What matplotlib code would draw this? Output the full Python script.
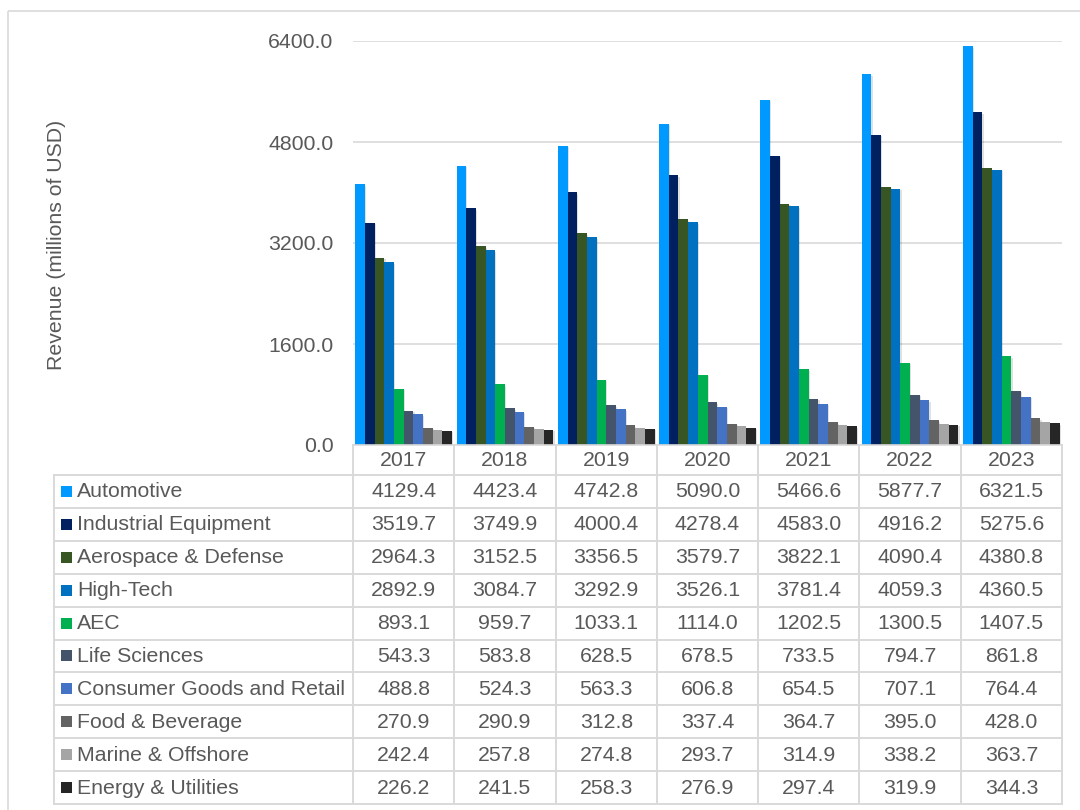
import matplotlib
matplotlib.use("Agg")
import matplotlib.pyplot as plt
from matplotlib.patches import Rectangle
from matplotlib.lines import Line2D

years = ["2017", "2018", "2019", "2020", "2021", "2022", "2023"]
segments = [
    "Automotive", "Industrial Equipment", "Aerospace & Defense", "High-Tech",
    "AEC", "Life Sciences", "Consumer Goods and Retail", "Food & Beverage",
    "Marine & Offshore", "Energy & Utilities",
]
automotive = [4129.4, 4423.4, 4742.8, 5090.0, 5466.6, 5877.7, 6321.5]
industrial_equipment = [3519.7, 3749.9, 4000.4, 4278.4, 4583.0, 4916.2, 5275.6]
aerospace_defense = [2964.3, 3152.5, 3356.5, 3579.7, 3822.1, 4090.4, 4380.8]
high_tech = [2892.9, 3084.7, 3292.9, 3526.1, 3781.4, 4059.3, 4360.5]
aec = [893.1, 959.7, 1033.1, 1114.0, 1202.5, 1300.5, 1407.5]
life_sciences = [543.3, 583.8, 628.5, 678.5, 733.5, 794.7, 861.8]
consumer_goods = [488.8, 524.3, 563.3, 606.8, 654.5, 707.1, 764.4]
food_beverage = [270.9, 290.9, 312.8, 337.4, 364.7, 395.0, 428.0]
marine_offshore = [242.4, 257.8, 274.8, 293.7, 314.9, 338.2, 363.7]
energy_utilities = [226.2, 241.5, 258.3, 276.9, 297.4, 319.9, 344.3]
series = [automotive, industrial_equipment, aerospace_defense, high_tech, aec,
          life_sciences, consumer_goods, food_beverage, marine_offshore,
          energy_utilities]
colors = ["#0099FF", "#002060", "#375623", "#0070C0", "#00B050",
          "#44546A", "#4472C4", "#636363", "#A5A5A5", "#262626"]
y_ticks = [0, 1600, 3200, 4800, 6400]

plt.rcParams["font.family"] = ["Liberation Sans", "DejaVu Sans"]
TXT = "#595959"
GRID = "#D9D9D9"
FS = 15.3

W, H = 1080, 810
fig = plt.figure(figsize=(W / 100, H / 100), dpi=100)

# pixel geometry of the plot area
px_left, px_right, px_top, px_bottom = 353, 1062, 41, 445
ax = fig.add_axes([px_left / W, 1 - px_bottom / H,
                   (px_right - px_left) / W, (px_bottom - px_top) / H])
n_cat = len(years)
n_ser = len(series)
group_w = 0.955
bw = group_w / n_ser
x0 = [i for i in range(n_cat)]
for k, (vals, c) in enumerate(zip(series, colors)):
    offs = -group_w / 2 + bw * (k + 0.5)
    xs = [x + offs for x in x0]
    # soft drop shadow
    ax.bar([x + 0.012 for x in xs], vals, width=bw, bottom=-25,
           color="#000000", alpha=0.12, linewidth=0, zorder=2)
    ax.bar(xs, vals, width=bw, color=c, linewidth=0, zorder=3)

ax.set_xlim(-0.5, n_cat - 0.5)
ax.set_ylim(0, 6400)
ax.set_yticks(y_ticks)
ax.set_yticklabels([f"{v:.1f}" for v in y_ticks], fontsize=FS, color=TXT)
ax.tick_params(axis="y", length=0, pad=14)
ax.set_xticks([])
ax.grid(axis="y", color=GRID, linewidth=1.2, zorder=0)
for s in ["top", "right", "left"]:
    ax.spines[s].set_visible(False)
ax.spines["bottom"].set_color(GRID)
ax.spines["bottom"].set_linewidth(1.2)
ax.spines["bottom"].set_zorder(4)

# overlay in pixel coordinates for frame, label and data table
ov = fig.add_axes([0, 0, 1, 1], zorder=5)
ov.set_xlim(0, W)
ov.set_ylim(H, 0)
ov.axis("off")
ov.patch.set_alpha(0)

ov.add_patch(Rectangle((8, 11), 1200, 1000, fill=False, edgecolor=GRID,
                       linewidth=1.2))
ov.text(57, 245, "Revenue (millions of USD)", rotation=90, ha="center",
        va="center", fontsize=FS, color=TXT)

col_w = (px_right - px_left) / n_cat
row_top = 475
row_h = 32.9
tbl_left = 54
tbl_bottom = row_top + row_h * n_ser
lw = 1.4

# year header row
for i, yr in enumerate(years):
    ov.text(px_left + col_w * (i + 0.5), 461, yr, ha="center", va="center",
            fontsize=FS, color=TXT)
for i in range(n_cat + 1):
    xv = px_left + col_w * i
    ov.add_line(Line2D([xv, xv], [px_bottom, tbl_bottom], color=GRID, lw=lw))
ov.add_line(Line2D([tbl_left, tbl_left], [row_top, tbl_bottom], color=GRID, lw=lw))
for r in range(n_ser + 1):
    yv = row_top + row_h * r
    ov.add_line(Line2D([tbl_left, px_right], [yv, yv], color=GRID, lw=lw))

for r, (name, vals, c) in enumerate(zip(segments, series, colors)):
    yc = row_top + row_h * (r + 0.5)
    ov.add_patch(Rectangle((61, yc - 5.5), 11, 11, color=c, linewidth=0))
    ov.text(77, yc + 0.5, name, ha="left", va="center", fontsize=FS, color=TXT)
    for i, v in enumerate(vals):
        ov.text(px_left + col_w * (i + 0.5), yc + 0.5, f"{v:.1f}",
                ha="center", va="center", fontsize=FS, color=TXT)

fig.savefig("out.png", dpi=100)
